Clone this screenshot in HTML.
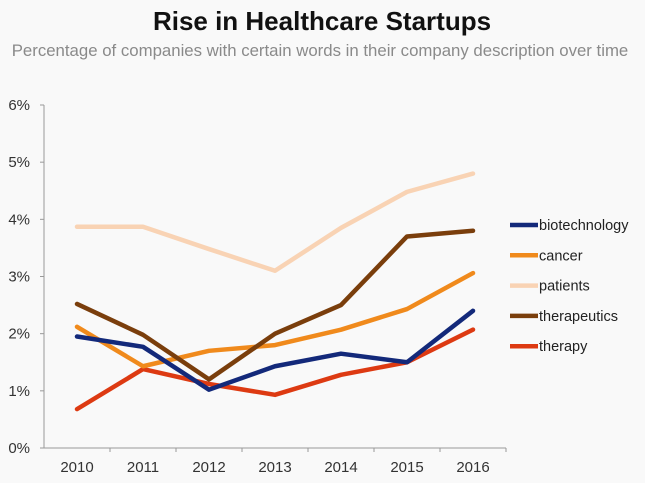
<!DOCTYPE html>
<html><head><meta charset="utf-8"><style>
body{margin:0;background:#f9f9f9;font-family:"Liberation Sans",sans-serif;}
svg text{font-family:"Liberation Sans",sans-serif;}
</style></head><body>
<svg width="645" height="478">
<rect width="645" height="478" fill="#f9f9f9"/>
<text x="322" y="30" text-anchor="middle" font-size="26" font-weight="bold" fill="#111">Rise in Healthcare Startups</text>
<text x="320" y="56" text-anchor="middle" font-size="16.8" fill="#8a8a8a">Percentage of companies with certain words in their company description over time</text>
<g id="axes"></g><g id="lines"></g><g id="legend"></g>
</svg>
<script>
const years=["2010","2011","2012","2013","2014","2015","2016"];
const yTicks=[0,1,2,3,4,5,6];
const seriesNames=["biotechnology","cancer","patients","therapeutics","therapy"];
const colors=["#13297a","#f08a1c","#f9d3b4","#7a3e0c","#dd3a12"];
const biotechnology=[1.95,1.77,1.02,1.43,1.65,1.5,2.4];
const cancer=[2.12,1.43,1.7,1.8,2.07,2.43,3.06];
const patients=[3.87,3.87,3.48,3.1,3.85,4.48,4.8];
const therapeutics=[2.52,1.98,1.2,2.0,2.5,3.7,3.8];
const therapy=[0.68,1.38,1.12,0.93,1.28,1.5,2.07];
const data=[biotechnology,cancer,patients,therapeutics,therapy];
const NS="http://www.w3.org/2000/svg";
const X0=44,X1=506,Y0=448,Y1=105;
const step=(X1-X0)/years.length;
const xs=i=>X0+step*(i+0.5);
const ys=v=>Y0-(v/6)*(Y0-Y1);
function mk(t,a,p){const e=document.createElementNS(NS,t);for(const k in a)e.setAttribute(k,a[k]);p.appendChild(e);return e;}
const ax=document.getElementById('axes');
let yl=mk('line',{x1:X0,y1:Y1,x2:X0,y2:Y0,stroke:'#999'},ax);


let xl=mk('line',{x1:X0,y1:Y0,x2:X1,y2:Y0,stroke:'#999'},ax);


yTicks.forEach(v=>{
 mk('line',{x1:X0-4,y1:ys(v),x2:X0,y2:ys(v),stroke:'#999'},ax);
 const t=mk('text',{x:X0-14,y:ys(v)+5,'text-anchor':'end','font-size':15,fill:'#333'},ax);
 t.textContent=v+'%';
 
 
});
years.forEach((y,i)=>{
 mk('line',{x1:X0+step*(i+1),y1:Y0,x2:X0+step*(i+1),y2:Y0+4,stroke:'#999'},ax);
 const t=mk('text',{x:xs(i),y:Y0+24,'text-anchor':'middle','font-size':15,fill:'#333'},ax);
 t.textContent=y;
 
 
});
const lg=document.getElementById('lines');
const order=[2,4,1,0,3];
order.forEach(s=>{
 const p=mk('polyline',{points:data[s].map((v,i)=>xs(i)+','+ys(v)).join(' '),fill:'none',stroke:colors[s],'stroke-width':4.5,'stroke-linejoin':'round','stroke-linecap':'round'},lg);
 
 
});
const leg=document.getElementById('legend');
seriesNames.forEach((n,i)=>{
 const y=225+i*30.3;
 const g=mk('g',{},leg);
 
 
 mk('line',{x1:510,y1:y,x2:538,y2:y,stroke:colors[i],'stroke-width':4.5},g);
 const t=mk('text',{x:539,y:y+5,'font-size':14.5,fill:'#222'},g);
 t.textContent=n;
});
</script>
</body></html>
